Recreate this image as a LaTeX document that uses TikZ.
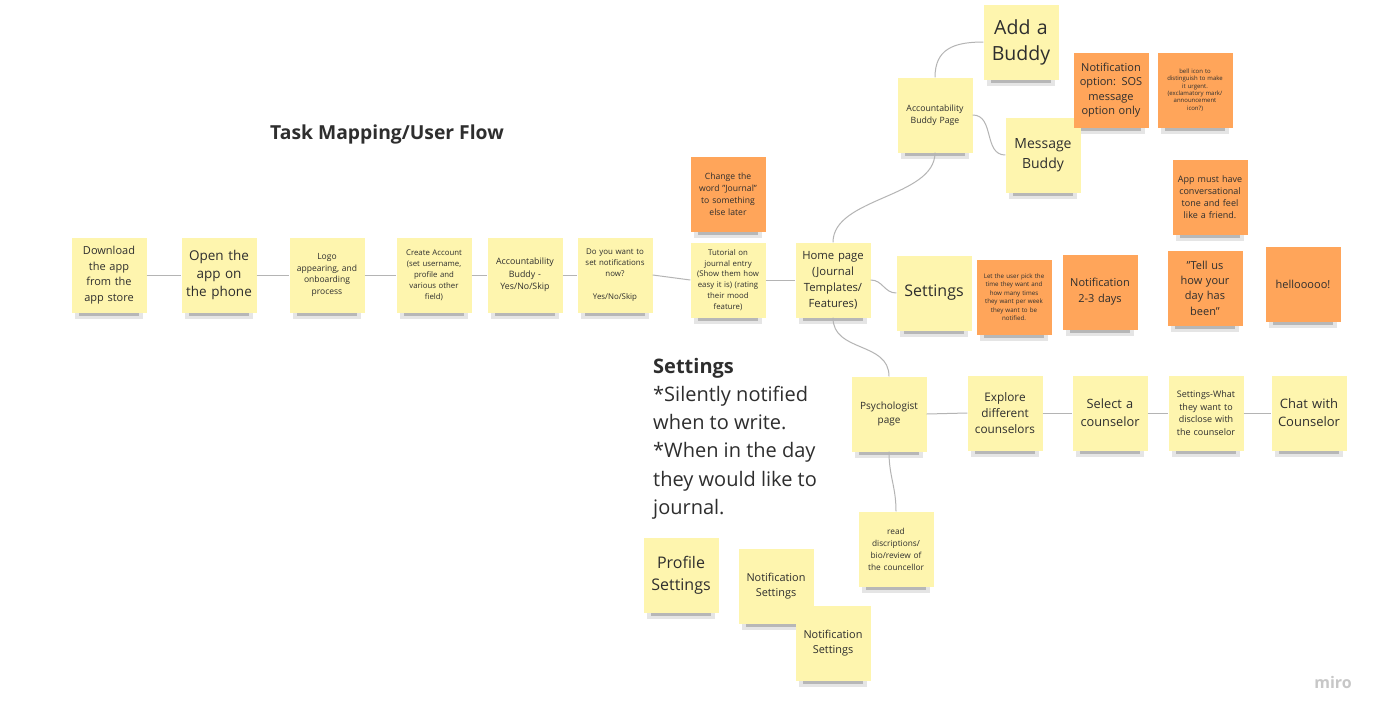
\documentclass[tikz,border=0pt]{standalone}
\usepackage{fontspec}
\setmainfont{Open Sans}
\usepackage{xcolor}
\usetikzlibrary{backgrounds}
\definecolor{stickyyellow}{HTML}{FEF5AE}
\definecolor{stickyorange}{HTML}{FFA55A}
\definecolor{inkgray}{HTML}{2E2E2E}
\definecolor{linkgray}{HTML}{B4B4B4}
\newcommand{\fsz}[2]{\fontsize{#1}{#2}\selectfont}

\begin{document}
\begin{tikzpicture}[x=1pt,y=-1pt,
  note/.style={fill=stickyyellow, minimum width=75pt, minimum height=75pt, inner sep=1pt, text width=72pt, align=center, text=inkgray},
  hotnote/.style={note, fill=stickyorange},
  link/.style={draw=linkgray, line width=1pt}]
\useasboundingbox (0,0) rectangle (1387,720);

\node[font=\bfseries\fsz{19.3}{23}, text=inkgray] (title) at (387,134) {Task Mapping/User Flow};

\node[note, font=\fsz{11}{15.5}] (dl) at (109,275) {Download\\the app\\from the\\app store};
\node[note, font=\fsz{13.5}{18}] (open) at (219,275) {Open the\\app on\\the phone};
\node[note, font=\fsz{8.5}{11.8}] (logo) at (327,275) {Logo\\appearing, and\\onboarding\\process};
\node[note, font=\fsz{7.8}{11}] (acct) at (434,275) {Create Account\\(set username,\\profile and\\various other\\field)};
\node[note, font=\fsz{8.8}{12.5}] (buddyq) at (525,275) {Accountability\\Buddy -\\Yes/No/Skip};
\node[note, font=\fsz{7.9}{11.3}] (notifq) at (615,275) {Do you want to\\set notifications\\now?\\[11.3pt]Yes/No/Skip};
\node[note, font=\fsz{7.8}{10.8}] (tut) at (728,280) {Tutorial on\\journal entry\\(Show them how\\easy it is) (rating\\their mood\\feature)};
\node[hotnote, font=\fsz{8.6}{12}] (rename) at (728,194) {Change the\\word "Journal"\\to something\\else later};
\node[note, font=\fsz{11.3}{16}] (home) at (833,280) {Home page\\(Journal\\Templates/\\Features)};

\node[note, font=\fsz{8.7}{11.7}] (bpage) at (935,115) {Accountability\\Buddy Page};
\node[note, font=\fsz{19.5}{26}] (addb) at (1021,42) {Add a\\Buddy};
\node[note, font=\fsz{14}{20}] (msgb) at (1043,155) {Message\\Buddy};
\node[hotnote, font=\fsz{11}{14.5}] (sos) at (1111,90) {Notification\\option: SOS\\message\\option only};
\node[hotnote, font=\fsz{6}{7.4}] (bell) at (1195,90) {bell icon to\\distinguish to make\\it urgent.\\(exclamatory mark/\\announcement\\icon?)};
\node[hotnote, font=\fsz{9}{12}] (tone) at (1210,197) {App must have\\conversational\\tone and feel\\like a friend.};

\node[note, font=\fsz{16}{20}] (sett) at (934,293) {Settings};
\node[hotnote, font=\fsz{6.2}{8.5}] (pick) at (1014,297) {Let the user pick the\\time they want and\\how many times\\they want per week\\they want to be\\notified.};
\node[hotnote, font=\fsz{11}{16}] (freq) at (1100,292) {Notification\\2-3 days};
\node[hotnote, font=\fsz{11}{15.3}] (tellus) at (1205,288) {"Tell us\\how your\\day has\\been"};
\node[hotnote, font=\fsz{11}{15}] (hello) at (1303,284) {hellooooo!};

\node[note, font=\fsz{10}{14.5}] (psych) at (889,414) {Psychologist\\page};
\node[note, font=\fsz{11.8}{16}] (explore) at (1005,413) {Explore\\different\\counselors};
\node[note, font=\fsz{12.8}{18}] (select) at (1110,413) {Select a\\counselor};
\node[note, font=\fsz{9}{12.5}] (discl) at (1206,413) {Settings-What\\they want to\\disclose with\\the counselor};
\node[note, font=\fsz{13}{18}] (chat) at (1309,413) {Chat with\\Counselor};
\node[note, font=\fsz{8.3}{12}] (bio) at (896,549) {read\\discriptions/\\bio/review of\\the councellor};

\node[note, font=\fsz{16}{21.7}] (prof) at (681,575) {Profile\\Settings};
\node[note, font=\fsz{10.9}{15.7}] (nset) at (776,586) {Notification\\Settings};
\node[note, font=\fsz{10.9}{15.7}] (nsetb) at (833,643) {Notification\\Settings};

\node[anchor=west, align=left, inner sep=0pt, text=inkgray, font=\fsz{20}{28.2}] (memo) at (653,438.5) {\textbf{Settings}\\*Silently notified\\when to write.\\*When in the day\\they would like to\\journal.};

\node[font=\bfseries\fsz{16}{18}, text=black!22] (brand) at (1333,682) {miro};

\begin{scope}[on background layer]
\fill[white] (0,0) rectangle (1387,720);
\foreach \n in {dl,open,logo,acct,buddyq,notifq,tut,rename,home,bpage,addb,msgb,sos,bell,tone,sett,pick,freq,tellus,hello,psych,explore,select,discl,chat,bio,prof,nset,nsetb}{
  \fill[black, opacity=0.10] ([xshift=4pt]\n.south west) rectangle ([xshift=-4pt,yshift=-6pt]\n.south east);
  \fill[black, opacity=0.20] ([xshift=8pt]\n.south west) rectangle ([xshift=-8pt,yshift=-3.5pt]\n.south east);
}
\end{scope}

\draw[link] (dl.east) -- (open.west);
\draw[link] (open.east) -- (logo.west);
\draw[link] (logo.east) -- (acct.west);
\draw[link] (acct.east) -- (buddyq.west);
\draw[link] (buddyq.east) -- (notifq.west);
\draw[link] (notifq.east) -- (tut.west);
\draw[link] (tut.east) -- (home.west);
\draw[link] (home.north) .. controls +(0,-45) and +(0,45) .. (bpage.south);
\draw[link] (bpage.north) .. controls +(0,-28) and +(-30,0) .. (addb.west);
\draw[link] (bpage.east) .. controls +(22,0) and +(-22,0) .. (msgb.west);
\draw[link] (home.east) .. controls +(12,0) and +(-12,0) .. (sett.west);
\draw[link] (home.south) .. controls +(0,35) and +(0,-35) .. (psych.north);
\draw[link] (psych.south) .. controls +(0,25) and +(0,-25) .. (bio.north);
\draw[link] (psych.east) -- (explore.west);
\draw[link] (explore.east) -- (select.west);
\draw[link] (select.east) -- (discl.west);
\draw[link] (discl.east) -- (chat.west);
\end{tikzpicture}
\end{document}
